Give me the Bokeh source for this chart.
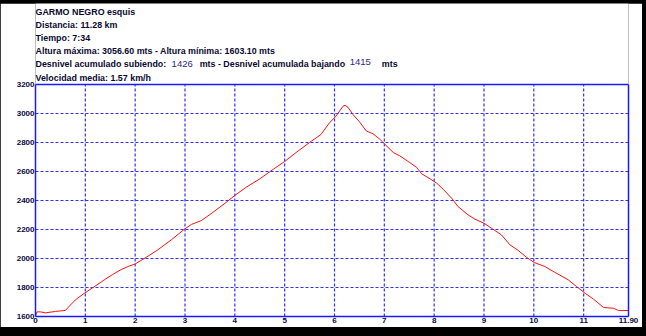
from bokeh.plotting import figure
from bokeh.models import Range1d, FixedTicker, LinearAxis, Span
from bokeh.core.properties import value
from bokeh.layouts import column
from bokeh.embed import file_html
from bokeh.resources import INLINE

# ---- data ----
km = [0.0, 0.03, 0.1, 0.2, 0.4, 0.6, 0.8, 0.98, 1.2, 1.39, 1.55, 1.72, 1.88, 2.0,
      2.22, 2.46, 2.73, 3.0, 3.13, 3.33, 3.56, 3.8, 4.0, 4.23, 4.5, 4.77, 5.0,
      5.23, 5.5, 5.73, 5.9, 6.03, 6.17, 6.21, 6.27, 6.37, 6.5, 6.64, 6.77, 6.91,
      7.01, 7.18, 7.31, 7.48, 7.65, 7.75, 7.92, 8.05, 8.18, 8.35, 8.48, 8.68,
      8.82, 9.0, 9.15, 9.35, 9.52, 9.69, 9.85, 10.01, 10.22, 10.42, 10.69,
      10.86, 11.03, 11.2, 11.4, 11.6, 11.7, 11.9]
alt = [1603, 1632, 1632, 1625, 1635, 1642, 1715, 1760, 1810, 1855, 1890, 1924,
       1948, 1962, 2008, 2061, 2130, 2205, 2235, 2262, 2318, 2380, 2435, 2492,
       2549, 2615, 2669, 2731, 2800, 2856, 2936, 2982, 3050, 3056.6, 3043, 2993,
       2943, 2879, 2861, 2822, 2788, 2731, 2708, 2669, 2628, 2584, 2549, 2520,
       2478, 2416, 2358, 2301, 2271, 2243, 2209, 2163, 2094, 2055, 2009, 1972,
       1945, 1905, 1853, 1806, 1760, 1719, 1662, 1657, 1641, 1641]

x_ticks = [0, 1, 2, 3, 4, 5, 6, 7, 8, 9, 10, 11, 11.9]
x_grid = [1, 2, 3, 4, 5, 6, 7, 8, 9, 10, 11]
y_ticks = [1600, 1800, 2000, 2200, 2400, 2600, 2800, 3000, 3200]

title = "GARMO NEGRO esquis"
info_lines = ["Distancia: 11.28 km", "Tiempo: 7:34",
              "Altura máxima: 3056.60 mts - Altura mínima: 1603.10 mts"]
desn_parts = ["Desnivel acumulado subiendo:", "1426", "mts - Desnivel acumulada bajando", "1415", "mts"]
vel = "Velocidad media: 1.57 km/h"

BLUE = "#1a1aff"
TXT = "#0a0a30"
NUM = "#2a2a8a"
FONT = "Liberation Sans"

# layout geometry (pixels)
X0, X1 = 0.0, 11.9
Y0, Y1 = 1600, 3200
FRAME_W = 592.5          # plot width in px for X0..X1
CHART_H = 232            # px for Y0..Y1
HEADER_H = 81            # px of header above the chart inside the frame
px_x = (X1 - X0) / FRAME_W
px_y = (Y1 - Y0) / CHART_H
y_top = Y1 + HEADER_H * px_y

p = figure(width=642, height=324, output_backend="svg", toolbar_location=None,
           x_range=Range1d(X0, X1), y_range=Range1d(Y0, y_top),
           min_border_left=35, min_border_right=14, min_border_top=0,
           min_border_bottom=11)
p.background_fill_color = "white"
p.border_fill_color = "white"
p.outline_line_color = None

# grid
p.xgrid.visible = False
p.ygrid.ticker = FixedTicker(ticks=y_ticks[1:-1])
p.ygrid.grid_line_color = "#3030ff"
p.ygrid.grid_line_dash = "3 2"
p.ygrid.grid_line_width = 1.2
p.segment(x0=x_grid, y0=[Y0] * len(x_grid), x1=x_grid, y1=[Y1] * len(x_grid),
          line_color="#3030ff", line_dash="3 2", line_width=1.2)

p.line(km, alt, line_color="#ff1010", line_width=1)

def style_axis(ax):
    ax.axis_line_color = BLUE
    ax.axis_line_width = 1.5
    ax.major_tick_line_color = None
    ax.minor_tick_line_color = None
    ax.major_tick_out = 0
    ax.major_tick_in = 0
    ax.major_label_text_font = FONT
    ax.major_label_text_font_size = "8px"
    ax.major_label_text_font_style = "bold"
    ax.major_label_text_color = "#0a0a40"
    ax.major_label_standoff = 1

style_axis(p.xaxis[0])
style_axis(p.yaxis[0])
p.xaxis.ticker = FixedTicker(ticks=x_ticks)
p.xaxis.major_label_overrides = {11.9: "11.90"}
p.yaxis.ticker = FixedTicker(ticks=y_ticks)
p.yaxis.bounds = (Y0, Y1)

right = LinearAxis(bounds=(Y0, Y1), ticker=FixedTicker(ticks=[]))
style_axis(right)
right.major_label_text_color = None
p.add_layout(right, "right")
p.add_layout(Span(location=Y1, dimension="width", line_color=BLUE, line_width=1.5))

# header texts
row_px = [73, 60, 47, 34, 21, 7]     # px above the chart top
def row_y(i):
    return Y1 + row_px[i] * px_y

def add_text(txt, xpx, y, color=TXT, bold=True, size="8.9px"):
    p.text(x=[X0 + xpx * px_x], y=[y], text=[txt], text_font=value(FONT),
           text_font_size=value(size), text_color=color,
           text_font_style="bold" if bold else "normal",
           text_baseline="middle", text_align="left")

add_text(title, 0, row_y(0))
for i, t in enumerate(info_lines):
    add_text(t, 0, row_y(i + 1))
desn_x = [0, 136, 164, 314, 346]
desn_dy = [0, 0, 0, 2, 0]
for t, xpx, dy in zip(desn_parts, desn_x, desn_dy):
    if t.isdigit():
        add_text(t, xpx, row_y(4) + dy * px_y, NUM, bold=False, size="9.5px")
    else:
        add_text(t, xpx, row_y(4) + dy * px_y)
add_text(vel, 0, row_y(5))

layout = column(p, styles={"background-color": "black",
                           "padding": "3px 4px 9px 0px"})

open("out.html", "w").write(file_html(layout, INLINE))
